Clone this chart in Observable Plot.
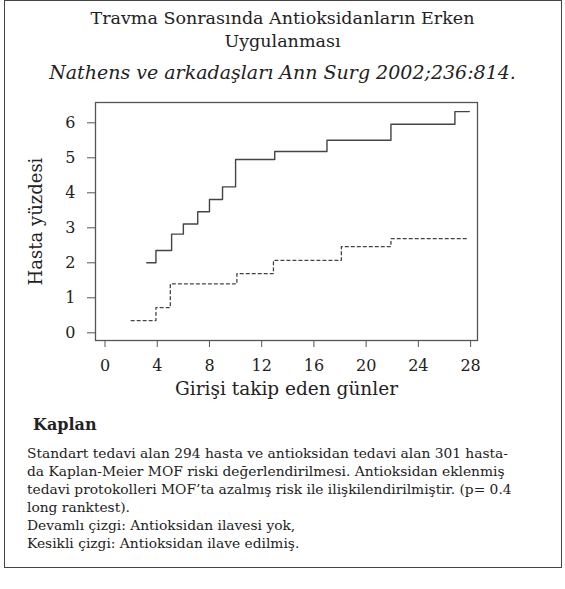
<!DOCTYPE html>
<html>
<head>
<meta charset="utf-8">
<script src="https://cdn.jsdelivr.net/npm/d3@7"></script>
<script src="https://cdn.jsdelivr.net/npm/@observablehq/plot@0.6"></script>
<style>
  html, body { margin: 0; padding: 0; background: #fff; }
  body { width: 565px; height: 589px; position: relative; font-family: "DejaVu Serif", serif; color: #222; }
  #box { position: absolute; left: 4px; top: 0px; width: 556px; height: 566px; border: 1.5px solid #444; border-top-width: 1px; }
  .t { position: absolute; left: 0; width: 565px; text-align: center; white-space: nowrap; }
  #chart { position: absolute; left: 0; top: 90px; }
  #cap { position: absolute; left: 27px; top: 444px; font-size: 13.8px; line-height: 18px; white-space: pre; }
  #kap { position: absolute; left: 33px; top: 415px; font-size: 16px; font-weight: bold; }
</style>
</head>
<body>
<div id="box"></div>
<div class="t" style="top:8px;font-size:17.5px;">Travma Sonrasında Antioksidanların Erken</div>
<div class="t" style="top:31px;font-size:17.5px;">Uygulanması</div>
<div class="t" style="top:61px;font-size:19px;font-style:italic;">Nathens ve arkadaşları Ann Surg 2002;236:814.</div>
<div id="chart"></div>
<div id="kap">Kaplan</div>
<div id="cap"></div>
<script>
// Solid line: no antioxidant added (days, percent)
const solidDays = [3.2, 3.9, 5.1, 6.0, 7.1, 8.0, 9.0, 10.0, 13.0, 17.0, 21.9, 26.8, 27.9];
const solidPct  = [2.0, 2.35, 2.82, 3.11, 3.46, 3.81, 4.17, 4.95, 5.18, 5.50, 5.96, 6.32, 6.32];
// Dashed line: antioxidant added
const dashDays = [2.0, 3.9, 5.0, 10.1, 12.9, 18.1, 21.9, 27.85];
const dashPct  = [0.35, 0.72, 1.40, 1.69, 2.07, 2.46, 2.69, 2.69];
// Axis ticks
const xTicks = [0, 4, 8, 12, 16, 20, 24, 28];
const yTicks = [0, 1, 2, 3, 4, 5, 6];

const captionLines = [
  "Standart tedavi alan 294 hasta ve antioksidan tedavi alan 301 hasta-",
  "da Kaplan-Meier MOF riski değerlendirilmesi. Antioksidan eklenmiş",
  "tedavi protokolleri MOF’ta azalmış risk ile ilişkilendirilmiştir. (p= 0.4",
  "long ranktest).",
  "Devamlı çizgi: Antioksidan ilavesi yok,",
  "Kesikli çizgi: Antioksidan ilave edilmiş."
];
document.getElementById("cap").textContent = captionLines.join("\n");

const solid = solidDays.map((d, i) => ({day: d, pct: solidPct[i]}));
const dashed = dashDays.map((d, i) => ({day: d, pct: dashPct[i]}));

const chart = Plot.plot({
  width: 565,
  height: 320,
  marginLeft: 95,
  marginRight: 88,
  marginTop: 12,
  marginBottom: 70,
  style: {fontFamily: "DejaVu Serif, serif", fontSize: "16px", color: "#222", background: "transparent"},
  x: {domain: [-0.73, 28.53], label: null},
  y: {domain: [-0.22, 6.58], label: null},
  marks: [
    Plot.frame({stroke: "#555", strokeWidth: 1.3}),
    Plot.axisX({ticks: xTicks, tickFormat: d3.format("d"), tickSize: 7, tickPadding: 12, stroke: "#555", fontSize: 16, label: null}),
    Plot.axisY({ticks: yTicks, tickFormat: d3.format("d"), tickSize: 8, tickPadding: 12, stroke: "#555", fontSize: 16, label: null}),
    Plot.text(["Girişi takip eden günler"], {frameAnchor: "bottom", dy: 54, fontSize: 18.5, fill: "#222"}),
    Plot.text(["Hasta yüzdesi"], {frameAnchor: "left", dx: -59, rotate: -90, textAnchor: "middle", fontSize: 18, fill: "#222"}),
    Plot.line(solid, {x: "day", y: "pct", curve: "step-after", stroke: "#444", strokeWidth: 1.4}),
    Plot.line(dashed, {x: "day", y: "pct", curve: "step-after", stroke: "#444", strokeWidth: 1.3, strokeDasharray: "3,3"})
  ]
});
document.getElementById("chart").appendChild(chart);
</script>
</body>
</html>
